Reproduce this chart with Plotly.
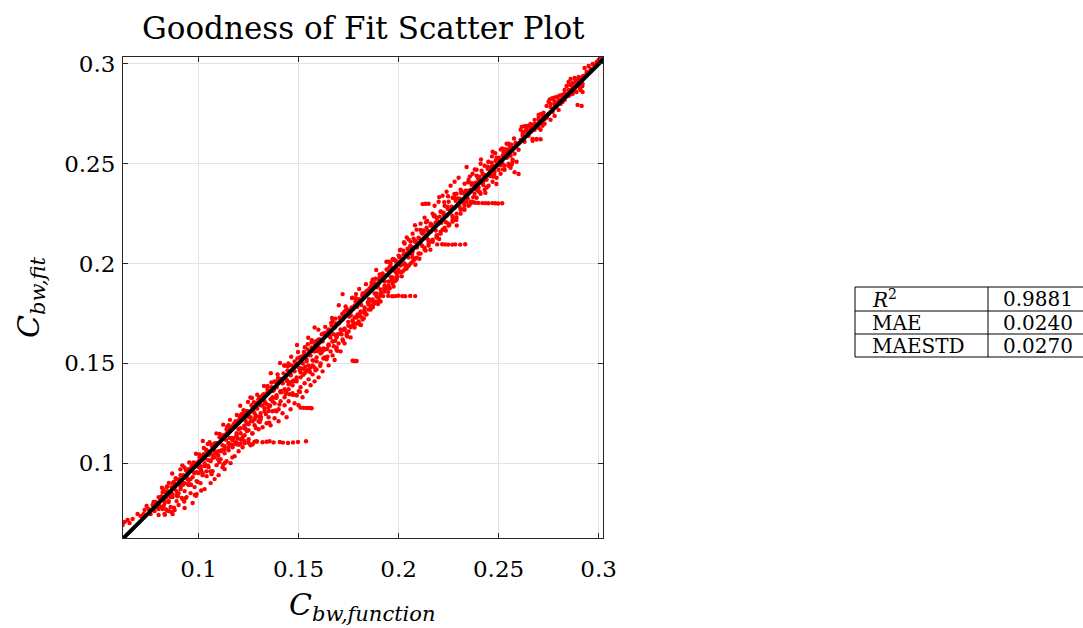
import plotly.graph_objects as go

# ---------------- data ----------------
# sparse points at the lower-left end of the cloud
seg_a = [(0.0620,0.0690),(0.0630,0.0705),(0.0645,0.0715),(0.0670,0.0720),(0.0695,0.0745),
         (0.0710,0.0735),(0.0730,0.0765),(0.0750,0.0770),(0.0760,0.0745),(0.0770,0.0790),
         (0.0780,0.0760),(0.0790,0.0800),(0.0795,0.0780),(0.0655,0.0700),(0.0725,0.0745),
         (0.0740,0.0785),(0.0775,0.0805)]

seg_b = [(0.080,0.0740),(0.080,0.0790),(0.081,0.0820),(0.082,0.0770),(0.082,0.0855),(0.083,0.0800),
         (0.083,0.0745),(0.084,0.0830),(0.084,0.0880),(0.085,0.0760),(0.085,0.0810),(0.086,0.0850),
         (0.086,0.0780),(0.087,0.0900),(0.087,0.0830),(0.088,0.0765),(0.088,0.0870),(0.089,0.0810),
         (0.089,0.0920),(0.090,0.0850),(0.090,0.0790),(0.091,0.0880),(0.091,0.0940),(0.092,0.0820),
         (0.092,0.0900),(0.093,0.0775),(0.093,0.0860),(0.094,0.0935),(0.094,0.0830),(0.095,0.0890),
         (0.095,0.0970),(0.096,0.0850),(0.096,0.0920),(0.097,0.0800),(0.097,0.0960),(0.098,0.0880),
         (0.098,0.0990),(0.099,0.0910),(0.099,0.0845),(0.100,0.0950),(0.100,0.1010)]

seg_c = [(0.101,0.0985),(0.101,0.0900),(0.102,0.1030),(0.102,0.0950),(0.103,0.0870),(0.103,0.1000),
         (0.104,0.1060),(0.104,0.0935),(0.105,0.0980),(0.105,0.1045),(0.106,0.0900),(0.106,0.1010),
         (0.107,0.1080),(0.107,0.0960),(0.108,0.1030),(0.108,0.0920),(0.109,0.1100),(0.109,0.0990),
         (0.110,0.1060),(0.110,0.0940),(0.111,0.1020),(0.111,0.1130),(0.112,0.0980),(0.112,0.1090),
         (0.113,0.0970),(0.113,0.1050),(0.114,0.1150),(0.114,0.1010),(0.115,0.1100),(0.115,0.1065),
         (0.116,0.1000),(0.116,0.1180),(0.117,0.1080),(0.117,0.1125),(0.118,0.1035),(0.118,0.1200),
         (0.119,0.1095),(0.119,0.1150),(0.120,0.1060),(0.120,0.1210),(0.121,0.1120),(0.121,0.1175),
         (0.122,0.1080),(0.122,0.1240),(0.123,0.1140),(0.123,0.1100),(0.124,0.1200),(0.124,0.1260),
         (0.125,0.1120),(0.125,0.1165),(0.126,0.1230),(0.126,0.1090),(0.127,0.1280),(0.127,0.1150),
         (0.128,0.1190),(0.128,0.1250),(0.129,0.1110),(0.129,0.1300),(0.130,0.1210),(0.130,0.1170),
         (0.117,0.1090),(0.119,0.1105),(0.121,0.1098),(0.123,0.1110),(0.125,0.1102),(0.127,0.1095),
         (0.128,0.1108)]

seg_d = [(0.131,0.1290),(0.131,0.1220),(0.132,0.1330),(0.132,0.1180),(0.133,0.1260),(0.133,0.1310),
         (0.134,0.1200),(0.134,0.1350),(0.135,0.1280),(0.135,0.1230),(0.136,0.1320),(0.136,0.1190),
         (0.137,0.1370),(0.137,0.1260),(0.138,0.1300),(0.138,0.1225),(0.139,0.1380),(0.139,0.1340),
         (0.140,0.1270),(0.140,0.1210),(0.141,0.1360),(0.141,0.1310),(0.142,0.1400),(0.142,0.1250),
         (0.143,0.1330),(0.143,0.1290),(0.144,0.1420),(0.144,0.1230),(0.145,0.1370),(0.145,0.1310),
         (0.146,0.1440),(0.146,0.1270),(0.147,0.1390),(0.147,0.1350),(0.148,0.1300),(0.148,0.1460),
         (0.149,0.1410),(0.149,0.1340),(0.150,0.1480),(0.150,0.1290),(0.151,0.1430),(0.151,0.1380),
         (0.152,0.1500),(0.152,0.1330),(0.153,0.1450),(0.153,0.1400),(0.154,0.1520),(0.154,0.1360),
         (0.155,0.1470),(0.155,0.1420),(0.156,0.1540),(0.156,0.1390),(0.157,0.1490),(0.157,0.1445),
         (0.158,0.1560),(0.158,0.1410),(0.159,0.1510),(0.159,0.1470),(0.160,0.1580),(0.160,0.1430),
         (0.1407,0.1502),(0.1492,0.1592),(0.1490,0.1340)]

seg_e = [(0.161,0.1550),(0.161,0.1500),(0.162,0.1610),(0.162,0.1460),(0.163,0.1570),(0.163,0.1530),
         (0.164,0.1640),(0.164,0.1520),(0.165,0.1590),(0.165,0.1490),(0.166,0.1660),(0.166,0.1560),
         (0.167,0.1610),(0.167,0.1540),(0.168,0.1680),(0.168,0.1517),(0.169,0.1630),(0.169,0.1580),
         (0.170,0.1700),(0.170,0.1600),(0.171,0.1650),(0.171,0.1560),(0.172,0.1720),(0.172,0.1620),
         (0.173,0.1670),(0.173,0.1600),(0.174,0.1740),(0.174,0.1640),(0.175,0.1690),(0.175,0.1660),
         (0.176,0.1760),(0.176,0.1630),(0.177,0.1710),(0.177,0.1690),(0.178,0.1790),(0.178,0.1680),
         (0.179,0.1730),(0.179,0.1700),(0.180,0.1820),(0.180,0.1710),(0.181,0.1760),(0.181,0.1735),
         (0.182,0.1840),(0.182,0.1720),(0.183,0.1780),(0.183,0.1750),(0.184,0.1860),(0.184,0.1745),
         (0.185,0.1800),(0.185,0.1770),(0.186,0.1880),(0.186,0.1770),(0.187,0.1820),(0.187,0.1790),
         (0.188,0.1900),(0.188,0.1800),(0.189,0.1850),(0.189,0.1810),(0.190,0.1920),(0.190,0.1830),
         (0.191,0.1870),(0.191,0.1840),(0.192,0.1950),(0.193,0.1890),(0.193,0.1860),(0.194,0.1970),
         (0.195,0.1910),(0.195,0.1880),(0.196,0.2000),(0.197,0.1930),(0.197,0.1900),(0.198,0.2020),
         (0.199,0.1950),(0.199,0.1920),(0.200,0.2040),(0.200,0.1960),(0.158,0.1680),(0.172,0.1847)]

seg_f = [(0.201,0.1990),(0.201,0.2070),(0.202,0.2020),(0.202,0.1960),(0.203,0.2100),(0.203,0.2000),
         (0.204,0.2050),(0.204,0.1975),(0.205,0.2120),(0.205,0.2030),(0.206,0.2080),(0.206,0.2000),
         (0.207,0.2150),(0.207,0.2060),(0.208,0.2110),(0.208,0.2020),(0.209,0.2170),(0.209,0.2080),
         (0.210,0.2130),(0.210,0.2050),(0.211,0.2200),(0.211,0.2100),(0.212,0.2298),(0.212,0.2150),
         (0.213,0.2080),(0.213,0.2230),(0.214,0.2130),(0.214,0.2180),(0.215,0.2300),(0.215,0.2100),
         (0.216,0.2200),(0.216,0.2160),(0.217,0.2250),(0.217,0.2120),(0.218,0.2290),(0.218,0.2180),
         (0.219,0.2140),(0.219,0.2230),(0.220,0.2310),(0.220,0.2200),(0.221,0.2160),(0.221,0.2260),
         (0.222,0.2340),(0.222,0.2220),(0.223,0.2180),(0.223,0.2290),(0.224,0.2360),(0.224,0.2240),
         (0.225,0.2200),(0.225,0.2310),(0.226,0.2390),(0.226,0.2260),(0.227,0.2220),(0.227,0.2330),
         (0.228,0.2410),(0.228,0.2280),(0.229,0.2250),(0.229,0.2350),(0.230,0.2430),(0.230,0.2300),
         (0.231,0.2270),(0.231,0.2370),(0.232,0.2320),(0.233,0.2400),(0.233,0.2290),(0.234,0.2484),
         (0.234,0.2340),(0.235,0.2420),(0.236,0.2310),(0.236,0.2370),(0.237,0.2450),(0.238,0.2350),
         (0.238,0.2400),(0.239,0.2470),(0.240,0.2380),(0.240,0.2420),(0.241,0.2500),(0.242,0.2400),
         (0.242,0.2450),(0.243,0.2490),(0.244,0.2420),(0.245,0.2480),(0.245,0.2510),(0.246,0.2440),
         (0.247,0.2560),(0.247,0.2490),(0.248,0.2460),(0.249,0.2494),(0.249,0.2530),(0.250,0.2470),
         (0.251,0.2492),(0.2135,0.2300)]

seg_g = [(0.252,0.2540),(0.252,0.2500),(0.253,0.2560),(0.253,0.2490),(0.254,0.2600),(0.254,0.2530),
         (0.255,0.2500),(0.255,0.2570),(0.256,0.2540),(0.256,0.2480),(0.257,0.2580),(0.257,0.2520),
         (0.258,0.2458),(0.258,0.2550),(0.259,0.2600),(0.259,0.2510),(0.260,0.2449),(0.260,0.2570),
         (0.261,0.2620),(0.261,0.2670),(0.262,0.2640),(0.263,0.2660),(0.263,0.2610),(0.264,0.2680),
         (0.265,0.2660),(0.265,0.2640),(0.266,0.2700),(0.266,0.2670),(0.267,0.2615),(0.267,0.2690),
         (0.268,0.2670),(0.268,0.2720),(0.269,0.2625),(0.269,0.2700),(0.270,0.2680),(0.270,0.2730),
         (0.271,0.2705),(0.271,0.2670),(0.272,0.2720),(0.272,0.2690),(0.273,0.2740),(0.273,0.2700),
         (0.274,0.2730),(0.274,0.2790),(0.275,0.2810),(0.275,0.2750),(0.276,0.2800),(0.276,0.2720),
         (0.277,0.2825),(0.277,0.2760),(0.278,0.2810),(0.278,0.2740),(0.279,0.2790),(0.280,0.2820),
         (0.280,0.2770),(0.281,0.2800),(0.282,0.2840),(0.282,0.2810),(0.283,0.2870),(0.283,0.2820),
         (0.284,0.2890),(0.284,0.2850),(0.285,0.2910),(0.285,0.2840),(0.286,0.2925),(0.286,0.2870),
         (0.287,0.2900),(0.287,0.2850),(0.288,0.2930),(0.288,0.2870),(0.289,0.2910),(0.289,0.2860),
         (0.2895,0.2795),(0.290,0.2890),(0.290,0.2935),(0.291,0.2870),(0.2915,0.2790),(0.292,0.2900),
         (0.292,0.2860),(0.293,0.2980),(0.294,0.2960),(0.295,0.2990),(0.296,0.2975),(0.297,0.3000),
         (0.298,0.2995),(0.299,0.3010),(0.300,0.3020),(0.301,0.3025)]

# feathered clusters in the upper part of the cloud
seg_h = [(0.2615,0.2685),(0.2628,0.2688),(0.2642,0.2690),(0.2655,0.2692),(0.2668,0.2694),(0.2681,0.2697),
         (0.2622,0.2660),(0.2636,0.2668),(0.2650,0.2655),(0.2663,0.2662),(0.2677,0.2675),(0.2690,0.2688),
         (0.2703,0.2700),(0.2716,0.2712),(0.2729,0.2722),(0.2742,0.2735),(0.2700,0.2745),(0.2712,0.2750),
         (0.2725,0.2756),(0.2755,0.2822),(0.2768,0.2828),(0.2781,0.2832),(0.2794,0.2836),(0.2807,0.2842),
         (0.2820,0.2846),(0.2790,0.2805),(0.2803,0.2815),(0.2816,0.2822),(0.2829,0.2830),(0.2842,0.2838),
         (0.2855,0.2846),(0.2868,0.2855),(0.2881,0.2862),(0.2858,0.2895),(0.2871,0.2905),(0.2884,0.2915),
         (0.2897,0.2922),(0.2910,0.2930),(0.2923,0.2940),(0.2905,0.2880),(0.2918,0.2888)]

# nearly horizontal streaks of points to the right of the band
streaks = [(0.1291,0.1108),(0.1320,0.1105),(0.1340,0.1107),(0.1355,0.1110),(0.1375,0.1104),
           (0.1406,0.1106),(0.1422,0.1103),(0.1447,0.1101),(0.1472,0.1104),(0.1497,0.1106),
           (0.1537,0.1110),
           (0.1510,0.1278),(0.1525,0.1277),(0.1540,0.1276),(0.1555,0.1276),(0.1565,0.1275),
           (0.1770,0.1513),(0.1780,0.1512),(0.1790,0.1512),
           (0.1923,0.1837),(0.1948,0.1838),(0.1968,0.1836),(0.1983,0.1837),(0.1998,0.1839),
           (0.2018,0.1837),(0.2033,0.1836),(0.2058,0.1838),(0.2083,0.1837),
           (0.2193,0.2096),(0.2218,0.2097),(0.2233,0.2096),(0.2248,0.2095),(0.2268,0.2095),
           (0.2283,0.2096),(0.2308,0.2095),(0.2333,0.2097),
           (0.2368,0.2306),(0.2383,0.2305),(0.2398,0.2304),(0.2418,0.2303),(0.2433,0.2303),
           (0.2448,0.2302),(0.2468,0.2303),(0.2483,0.2302),(0.2498,0.2301),(0.2518,0.2302),
           (0.2670,0.2624),(0.2690,0.2622),(0.2710,0.2623)]

# dense core of the cloud on both sides of the 1:1 line
core = [(0.0785,0.0805),(0.0800,0.0770),(0.0815,0.0835),(0.0830,0.0815),(0.0845,0.0860),(0.0850,0.0805),
        (0.0865,0.0880),(0.0870,0.0845),(0.0885,0.0895),(0.0890,0.0860),(0.0905,0.0920),(0.0910,0.0870),
        (0.0925,0.0940),(0.0930,0.0900),(0.0945,0.0955),(0.0950,0.0915),(0.0965,0.0985),(0.0970,0.0930),
        (0.0985,0.1000),(0.0990,0.0955),(0.1005,0.1030),(0.1010,0.0975),(0.1025,0.1045),(0.1030,0.0985),
        (0.1045,0.1060),(0.1050,0.1015),(0.1065,0.1090),(0.1070,0.1025),(0.1085,0.1100),(0.1090,0.1050),
        (0.1105,0.1130),(0.1110,0.1060),(0.1125,0.1140),(0.1130,0.1085),(0.1145,0.1170),(0.1150,0.1100),
        (0.1165,0.1180),(0.1170,0.1115),(0.1185,0.1210),(0.1190,0.1140),(0.1205,0.1225),(0.1210,0.1150),
        (0.1225,0.1250),(0.1230,0.1175),(0.1245,0.1260),(0.1250,0.1195),(0.1265,0.1290),(0.1270,0.1210),
        (0.1285,0.1300),(0.1290,0.1235),(0.1305,0.1330),(0.1310,0.1250),(0.1325,0.1340),(0.1330,0.1275),
        (0.1345,0.1370),(0.1350,0.1290),(0.1365,0.1380),(0.1370,0.1310),(0.1385,0.1410),(0.1390,0.1330),
        (0.1405,0.1420),(0.1410,0.1355),(0.1425,0.1450),(0.1430,0.1370),(0.1445,0.1465),(0.1450,0.1395),
        (0.1465,0.1490),(0.1470,0.1410),(0.1485,0.1500),(0.1490,0.1430),(0.1505,0.1530),(0.1510,0.1455),
        (0.1525,0.1540),(0.1530,0.1470),(0.1545,0.1570),(0.1550,0.1490),(0.1565,0.1580),(0.1570,0.1515),
        (0.1585,0.1610),(0.1590,0.1530),(0.1605,0.1620),(0.1610,0.1555),(0.1625,0.1650),(0.1630,0.1570),
        (0.1645,0.1660),(0.1650,0.1595),(0.1665,0.1690),(0.1670,0.1610),(0.1685,0.1700),(0.1690,0.1635),
        (0.1705,0.1730),(0.1710,0.1650),(0.1725,0.1740),(0.1730,0.1675),(0.1745,0.1770),(0.1750,0.1690),
        (0.1765,0.1780),(0.1770,0.1715),(0.1785,0.1810),(0.1790,0.1735),(0.1805,0.1820),(0.1810,0.1755),
        (0.1825,0.1850),(0.1830,0.1770),(0.1845,0.1860),(0.1850,0.1795),(0.1865,0.1890),(0.1870,0.1810),
        (0.1885,0.1900),(0.1890,0.1835),(0.1905,0.1930),(0.1910,0.1850),(0.1925,0.1940),(0.1930,0.1875),
        (0.1945,0.1970),(0.1950,0.1890),(0.1965,0.1980),(0.1970,0.1915),(0.1985,0.2010),(0.1990,0.1930),
        (0.2005,0.2030),(0.2010,0.1955),(0.2025,0.2045),(0.2030,0.1970),(0.2045,0.2075),(0.2050,0.1990),
        (0.2065,0.2085),(0.2070,0.2010),(0.2085,0.2115),(0.2090,0.2030),(0.2105,0.2125),(0.2110,0.2050),
        (0.2125,0.2155),(0.2130,0.2070),(0.2145,0.2165),(0.2150,0.2090),(0.2165,0.2195),(0.2170,0.2110),
        (0.2185,0.2205),(0.2190,0.2130),(0.2205,0.2235),(0.2210,0.2150),(0.2225,0.2245),(0.2230,0.2170),
        (0.2245,0.2275),(0.2250,0.2190),(0.2265,0.2285),(0.2270,0.2210),(0.2285,0.2315),(0.2290,0.2230),
        (0.2305,0.2325),(0.2310,0.2250),(0.2325,0.2355),(0.2330,0.2270),(0.2345,0.2365),(0.2350,0.2290),
        (0.2365,0.2395),(0.2370,0.2310),(0.2385,0.2405),(0.2390,0.2330),(0.2405,0.2435),(0.2410,0.2350),
        (0.2425,0.2445),(0.2430,0.2370),(0.2445,0.2475),(0.2450,0.2390),(0.2465,0.2485),(0.2470,0.2410),
        (0.2485,0.2515),(0.2490,0.2430),(0.2505,0.2525),(0.2510,0.2450),(0.2525,0.2555),(0.2530,0.2470),
        (0.2545,0.2565),(0.2550,0.2490),(0.2565,0.2595),(0.2570,0.2510),(0.2585,0.2605),(0.2620,0.2650),
        (0.2640,0.2670),(0.2660,0.2680),(0.2680,0.2700),(0.2700,0.2720),(0.2720,0.2735),(0.2760,0.2785),
        (0.2780,0.2800),(0.2800,0.2810),(0.2830,0.2850),(0.2850,0.2870),(0.2870,0.2880),(0.2890,0.2900),
        (0.2940,0.2950),(0.2960,0.2965),(0.2980,0.2990)]

# extra scattered points filling the band (lower and middle part)
fill_1 = [(0.0805,0.0825),(0.0818,0.0778),(0.0831,0.0741),(0.0844,0.0884),(0.0857,0.0847),(0.0870,0.0745),
          (0.0883,0.0893),(0.0896,0.0836),(0.0909,0.0969),(0.0922,0.0892),(0.0935,0.0825),(0.0948,0.0948),
          (0.0961,0.0891),(0.0974,0.1004),(0.0987,0.0837),(0.1000,0.0980),(0.1013,0.0963),(0.1026,0.1076),
          (0.1039,0.0959),(0.1052,0.1042),(0.1065,0.0945),(0.1078,0.1098),(0.1091,0.1051),(0.1104,0.1004),
          (0.1117,0.1127),(0.1130,0.1070),(0.1143,0.1183),(0.1156,0.1126),(0.1169,0.1029),(0.1182,0.1182),
          (0.1195,0.1125),(0.1208,0.1238),(0.1221,0.1131),(0.1234,0.1214),(0.1247,0.1307),(0.1260,0.1210),
          (0.1273,0.1263),(0.1286,0.1176),(0.1299,0.1319),(0.1312,0.1232),(0.1325,0.1345),(0.1338,0.1298),
          (0.1351,0.1261),(0.1364,0.1404),(0.1377,0.1367),(0.1390,0.1260),(0.1403,0.1413),(0.1416,0.1356),
          (0.1429,0.1489),(0.1442,0.1412),(0.1455,0.1345),(0.1468,0.1468),(0.1481,0.1411),(0.1494,0.1524),
          (0.1507,0.1357),(0.1520,0.1500),(0.1533,0.1483),(0.1546,0.1596),(0.1559,0.1479),(0.1572,0.1562),
          (0.1585,0.1465),(0.1598,0.1618),(0.1611,0.1571),(0.1624,0.1524),(0.1637,0.1647),(0.1650,0.1590),
          (0.1663,0.1703),(0.1676,0.1646),(0.1689,0.1569),(0.1702,0.1702),(0.1715,0.1645),(0.1728,0.1758),
          (0.1741,0.1651),(0.1754,0.1734),(0.1767,0.1827),(0.1780,0.1730),(0.1793,0.1783),(0.1806,0.1696),
          (0.1819,0.1839),(0.1832,0.1752),(0.1845,0.1865),(0.1858,0.1818),(0.1871,0.1781),(0.1884,0.1924),
          (0.1897,0.1887),(0.1910,0.1810),(0.1923,0.1933),(0.1936,0.1876),(0.1949,0.2009),(0.1962,0.1932),
          (0.1975,0.1885),(0.1988,0.1988)]

fill_2 = [(0.0812,0.0782),(0.0825,0.0865),(0.0838,0.0768),(0.0851,0.0841),(0.0864,0.0755),(0.0877,0.0907),
          (0.0890,0.0840),(0.0903,0.0903),(0.0916,0.0826),(0.0929,0.0979),(0.0942,0.0922),(0.0955,0.0895),
          (0.0968,0.0978),(0.0981,0.0841),(0.0994,0.0954),(0.1007,0.1037),(0.1020,0.0940),(0.1033,0.1023),
          (0.1046,0.1096),(0.1059,0.0959),(0.1072,0.1042),(0.1085,0.1085),(0.1098,0.1038),(0.1111,0.1131),
          (0.1124,0.0994),(0.1137,0.1117),(0.1150,0.1190),(0.1163,0.1093),(0.1176,0.1126),(0.1189,0.1199),
          (0.1202,0.1092),(0.1215,0.1245),(0.1228,0.1188),(0.1241,0.1161),(0.1254,0.1254),(0.1267,0.1327),
          (0.1280,0.1220),(0.1293,0.1273),(0.1306,0.1206),(0.1319,0.1339),(0.1332,0.1302),(0.1345,0.1385),
          (0.1358,0.1288),(0.1371,0.1361),(0.1384,0.1264),(0.1397,0.1427),(0.1410,0.1360),(0.1423,0.1423),
          (0.1436,0.1346),(0.1449,0.1499),(0.1462,0.1442),(0.1475,0.1415),(0.1488,0.1498),(0.1501,0.1361),
          (0.1514,0.1474),(0.1527,0.1557),(0.1540,0.1460),(0.1553,0.1543),(0.1566,0.1616),(0.1579,0.1479),
          (0.1592,0.1562),(0.1605,0.1605),(0.1618,0.1558),(0.1631,0.1651),(0.1644,0.1534),(0.1657,0.1637),
          (0.1670,0.1710),(0.1683,0.1613),(0.1696,0.1646),(0.1709,0.1719),(0.1722,0.1612),(0.1735,0.1765),
          (0.1748,0.1708),(0.1761,0.1681),(0.1774,0.1774),(0.1787,0.1847),(0.1800,0.1740),(0.1813,0.1793),
          (0.1826,0.1726),(0.1839,0.1859),(0.1852,0.1822),(0.1865,0.1905),(0.1878,0.1808),(0.1891,0.1881),
          (0.1904,0.1814),(0.1917,0.1947),(0.1930,0.1880),(0.1943,0.1943),(0.1956,0.1876),(0.1969,0.2019),
          (0.1982,0.1962),(0.1995,0.1935)]

# extra scattered points filling the band (upper part)
fill_3 = [(0.2005,0.2035),(0.2016,0.1996),(0.2027,0.2107),(0.2038,0.1978),(0.2049,0.2059),(0.2060,0.2110),
          (0.2071,0.2031),(0.2082,0.2192),(0.2093,0.2083),(0.2104,0.2024),(0.2115,0.2155),(0.2126,0.2126),
          (0.2137,0.2207),(0.2148,0.2118),(0.2159,0.2069),(0.2170,0.2190),(0.2181,0.2241),(0.2192,0.2142),
          (0.2203,0.2333),(0.2214,0.2204),(0.2225,0.2255),(0.2236,0.2166),(0.2247,0.2337),(0.2258,0.2268),
          (0.2269,0.2239),(0.2280,0.2330),(0.2291,0.2191),(0.2302,0.2302),(0.2313,0.2353),(0.2324,0.2304),
          (0.2335,0.2365),(0.2346,0.2326),(0.2357,0.2437),(0.2368,0.2308),(0.2379,0.2389),(0.2390,0.2440),
          (0.2401,0.2361),(0.2412,0.2522),(0.2423,0.2413),(0.2434,0.2354),(0.2445,0.2485),(0.2456,0.2456),
          (0.2467,0.2537),(0.2478,0.2448),(0.2489,0.2399),(0.2500,0.2520),(0.2511,0.2571),(0.2522,0.2472),
          (0.2533,0.2573),(0.2544,0.2534),(0.2555,0.2585),(0.2566,0.2496),(0.2577,0.2627),(0.2588,0.2598)]

# points lying just above the 1:1 line
fill_4 = [(0.0800,0.0830),(0.0817,0.0877),(0.0834,0.0854),(0.0851,0.0901),(0.0868,0.0948),(0.0885,0.0925),
          (0.0902,0.0912),(0.0919,0.0989),(0.0936,0.0966),(0.0953,0.1003),(0.0970,0.0990),(0.0987,0.1047),
          (0.1004,0.1044),(0.1021,0.1111),(0.1038,0.1068),(0.1055,0.1105),(0.1072,0.1082),(0.1089,0.1149),
          (0.1106,0.1146),(0.1123,0.1193),(0.1140,0.1170),(0.1157,0.1217),(0.1174,0.1194),(0.1191,0.1241),
          (0.1208,0.1288),(0.1225,0.1265),(0.1242,0.1252),(0.1259,0.1329),(0.1276,0.1306),(0.1293,0.1343),
          (0.1310,0.1330),(0.1327,0.1387),(0.1344,0.1384),(0.1361,0.1451),(0.1378,0.1408),(0.1395,0.1445),
          (0.1412,0.1422),(0.1429,0.1489),(0.1446,0.1486),(0.1463,0.1533),(0.1480,0.1510),(0.1497,0.1557),
          (0.1514,0.1534),(0.1531,0.1581),(0.1548,0.1628),(0.1565,0.1605),(0.1582,0.1592),(0.1599,0.1669),
          (0.1616,0.1646),(0.1633,0.1683),(0.1650,0.1670),(0.1667,0.1727),(0.1684,0.1724),(0.1701,0.1791),
          (0.1718,0.1748),(0.1735,0.1785),(0.1752,0.1762),(0.1769,0.1829),(0.1786,0.1826),(0.1803,0.1873),
          (0.1820,0.1850),(0.1837,0.1897),(0.1854,0.1874),(0.1871,0.1921),(0.1888,0.1968),(0.1905,0.1945),
          (0.1922,0.1932),(0.1939,0.2009),(0.1956,0.1986),(0.1973,0.2023),(0.1990,0.2010),(0.2007,0.2067),
          (0.2024,0.2064),(0.2041,0.2131),(0.2058,0.2088),(0.2075,0.2125),(0.2092,0.2102),(0.2109,0.2169),
          (0.2126,0.2166),(0.2143,0.2213),(0.2160,0.2190),(0.2177,0.2237),(0.2194,0.2214),(0.2211,0.2261),
          (0.2228,0.2308),(0.2245,0.2285),(0.2262,0.2272),(0.2279,0.2349),(0.2296,0.2326),(0.2313,0.2363),
          (0.2330,0.2350),(0.2347,0.2407),(0.2364,0.2404),(0.2381,0.2471),(0.2398,0.2428),(0.2415,0.2465),
          (0.2432,0.2442),(0.2449,0.2509),(0.2466,0.2506),(0.2483,0.2553),(0.2500,0.2530),(0.2517,0.2577),
          (0.2534,0.2554),(0.2551,0.2601)]

# points lying below the 1:1 line
fill_5 = [(0.0826,0.0786),(0.0843,0.0763),(0.0860,0.0830),(0.0877,0.0777),(0.0894,0.0834),(0.0911,0.0891),
          (0.0928,0.0808),(0.0945,0.0895),(0.0962,0.0892),(0.0979,0.0949),(0.0996,0.0906),(0.1013,0.0863),
          (0.1030,0.0990),(0.1047,0.0987),(0.1064,0.0954),(0.1081,0.1061),(0.1098,0.1018),(0.1115,0.1065),
          (0.1132,0.1002),(0.1149,0.1079),(0.1166,0.1126),(0.1183,0.1103),(0.1200,0.1170),(0.1217,0.1117),
          (0.1234,0.1174),(0.1251,0.1231),(0.1268,0.1148),(0.1285,0.1235),(0.1302,0.1232),(0.1319,0.1289),
          (0.1336,0.1246),(0.1353,0.1203),(0.1370,0.1330),(0.1387,0.1327),(0.1404,0.1294),(0.1421,0.1401),
          (0.1438,0.1358),(0.1455,0.1405),(0.1472,0.1342),(0.1489,0.1419),(0.1506,0.1466),(0.1523,0.1443),
          (0.1540,0.1510),(0.1557,0.1457),(0.1574,0.1514),(0.1591,0.1571),(0.1608,0.1488),(0.1625,0.1575),
          (0.1642,0.1572),(0.1659,0.1629),(0.1676,0.1586),(0.1693,0.1563),(0.1710,0.1670),(0.1727,0.1667),
          (0.1744,0.1634),(0.1761,0.1741),(0.1778,0.1698),(0.1795,0.1745),(0.1812,0.1692),(0.1829,0.1759),
          (0.1846,0.1806),(0.1863,0.1783),(0.1880,0.1850),(0.1897,0.1797),(0.1914,0.1854),(0.1931,0.1911),
          (0.1948,0.1858),(0.1965,0.1915),(0.1982,0.1912),(0.1999,0.1969),(0.2016,0.1936),(0.2033,0.1993),
          (0.2050,0.1990),(0.2067,0.2047),(0.2084,0.1994),(0.2101,0.2051),(0.2118,0.2088),(0.2135,0.2065),
          (0.2152,0.2112),(0.2169,0.2109),(0.2186,0.2166),(0.2203,0.2123),(0.2220,0.2170),(0.2237,0.2207),
          (0.2254,0.2194),(0.2271,0.2231),(0.2288,0.2218),(0.2305,0.2285),(0.2322,0.2272),(0.2339,0.2309),
          (0.2356,0.2296),(0.2373,0.2333),(0.2390,0.2370),(0.2407,0.2357),(0.2424,0.2394),(0.2441,0.2381),
          (0.2458,0.2438),(0.2475,0.2435)]

# 1:1 reference line end points
diag_x = [0.0600, 0.3040]
diag_y = [0.0600, 0.3040]

x_ticks = [0.1, 0.15, 0.2, 0.25, 0.3]
x_tick_labels = ["0.1", "0.15", "0.2", "0.25", "0.3"]
y_ticks = [0.1, 0.15, 0.2, 0.25, 0.3]
y_tick_labels = ["0.1", "0.15", "0.2", "0.25", "0.3"]

metric_names = ["<i>R</i><sup>2</sup>", "MAE", "MAESTD"]
metric_values = ["0.9881", "0.0240", "0.0270"]

# ---------------- figure ----------------
all_pts = (seg_a + seg_b + seg_c + seg_d + seg_e + seg_f + seg_g + seg_h + streaks + core
           + fill_1 + fill_2 + fill_3 + fill_4 + fill_5)
pts_x = [p[0] for p in all_pts]
pts_y = [p[1] for p in all_pts]

W, H = 1083, 628
L, R, T, B = 123, 603, 57, 538  # plot area in pixels

def fx(px):
    return (px - L) / (R - L)

def fy(py):
    return (B - py) / (B - T)

fig = go.Figure()
fig.add_trace(go.Scatter(x=pts_x, y=pts_y, mode="markers",
                         marker=dict(color="#ff0000", size=4.4, line=dict(width=0)),
                         showlegend=False, hoverinfo="skip"))
fig.add_trace(go.Scatter(x=diag_x, y=diag_y, mode="lines",
                         line=dict(color="black", width=4), showlegend=False, hoverinfo="skip"))

SERIF = "DejaVu Serif"
axis_common = dict(showline=True, linecolor="#262626", linewidth=1, mirror="ticks",
                   ticks="inside", ticklen=5, tickwidth=1, tickcolor="#262626",
                   showgrid=True, gridcolor="#e3e3e3", gridwidth=1, zeroline=False,
                   tickfont=dict(family=SERIF, size=23, color="black"))

fig.update_layout(
    width=W, height=H,
    margin=dict(l=L, r=W - R, t=T, b=H - B, pad=0),
    paper_bgcolor="white", plot_bgcolor="white",
    xaxis=dict(range=[0.0622, 0.3022], tickvals=x_ticks, ticktext=x_tick_labels,
               ticklabelstandoff=10, **axis_common),
    yaxis=dict(range=[0.0625, 0.3035], tickvals=y_ticks, ticktext=y_tick_labels,
               ticklabelstandoff=2, **axis_common),
)

annotations = [
    dict(text="Goodness of Fit Scatter Plot", x=fx(363), y=fy(28), xref="paper", yref="paper",
         showarrow=False, xanchor="center", yanchor="middle",
         font=dict(family=SERIF, size=31, color="black")),
    dict(text="<i>C</i><sub><i>bw,function</i></sub>", x=fx(362), y=fy(606), xref="paper", yref="paper",
         showarrow=False, xanchor="center", yanchor="middle",
         font=dict(family=SERIF, size=30, color="black")),
    dict(text="<i>C</i><sub><i>bw,fit</i></sub>", x=fx(30), y=fy(297), xref="paper", yref="paper",
         showarrow=False, xanchor="center", yanchor="middle", textangle=-90,
         font=dict(family=SERIF, size=30, color="black")),
]

# table of fit metrics
row_lines = [287, 311, 334, 357]
col_lines = [855, 988, 1095]
shapes = []
for yy in row_lines:
    shapes.append(dict(type="line", xref="paper", yref="paper", x0=fx(col_lines[0]), x1=fx(col_lines[-1]),
                       y0=fy(yy), y1=fy(yy), line=dict(color="black", width=1)))
for xx in col_lines:
    shapes.append(dict(type="line", xref="paper", yref="paper", x0=fx(xx), x1=fx(xx),
                       y0=fy(row_lines[0]), y1=fy(row_lines[-1]), line=dict(color="black", width=1)))
for i, (name, val) in enumerate(zip(metric_names, metric_values)):
    yc = (row_lines[i] + row_lines[i + 1]) / 2
    annotations.append(dict(text=name, x=fx(870), y=fy(yc), xref="paper", yref="paper", showarrow=False,
                            xanchor="left", yanchor="middle",
                            font=dict(family=SERIF, size=20, color="black")))
    annotations.append(dict(text=val, x=fx(1001), y=fy(yc), xref="paper", yref="paper", showarrow=False,
                            xanchor="left", yanchor="middle",
                            font=dict(family=SERIF, size=20, color="black")))

fig.update_layout(annotations=annotations, shapes=shapes)
fig.write_html("out.html")
